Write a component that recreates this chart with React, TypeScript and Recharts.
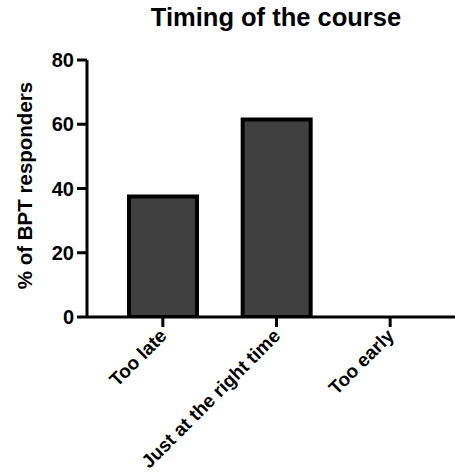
import React from 'react';
import { BarChart, Bar, XAxis, YAxis } from 'recharts';

const categories = ['Too late', 'Just at the right time', 'Too early'];
const responders = [37.5, 61.5, 0];
const yTicks = [0, 20, 40, 60, 80];

const data = categories.map((c, i) => ({ name: c, value: responders[i] }));

const FONT = 'Arial, "Liberation Sans", sans-serif';

const XTick = (props: any) => {
  const { x, y, payload } = props;
  const ax = x + 5;
  const ay = y + 8;
  return (
    <text
      x={ax}
      y={ay}
      transform={`rotate(-45, ${ax}, ${ay})`}
      textAnchor="end"
      fontFamily={FONT}
      fontWeight="bold"
      fontSize={19}
      fill="#000"
    >
      {payload.value}
    </text>
  );
};

const YLabel = (props: any) => {
  const { viewBox } = props;
  const cy = viewBox.y + viewBox.height / 2 - 3;
  const cx = 32;
  return (
    <text
      x={cx}
      y={cy}
      transform={`rotate(-90, ${cx}, ${cy})`}
      textAnchor="middle"
      fontFamily={FONT}
      fontWeight="bold"
      fontSize={20.5}
      fill="#000"
    >
      % of BPT responders
    </text>
  );
};

export default function App() {
  return (
    <div style={{ position: 'absolute', left: 0, top: 0, width: 455, height: 476, background: '#fff' }}>
      <div
        style={{
          position: 'absolute',
          left: 0,
          top: 2,
          width: 455,
          paddingLeft: 97,
          boxSizing: 'border-box',
          textAlign: 'center',
          fontFamily: FONT,
          fontWeight: 'bold',
          fontSize: 25.5,
          lineHeight: '30px',
          color: '#000',
        }}
      >
        Timing of the course
      </div>
      <BarChart
        width={455}
        height={476}
        data={data}
        margin={{ top: 60, right: 0, bottom: 0, left: 0 }}
        barCategoryGap={0}
      >
        <XAxis
          dataKey="name"
          height={159}
          axisLine={{ stroke: '#000', strokeWidth: 3 }}
          tickLine={{ stroke: '#000', strokeWidth: 3 }}
          tickSize={10}
          tickMargin={2}
          interval={0}
          padding={{ left: 19, right: 8 }}
          tick={<XTick />}
        />
        <YAxis
          width={87}
          domain={[0, 80]}
          ticks={yTicks}
          allowDataOverflow
          axisLine={{ stroke: '#000', strokeWidth: 3 }}
          tickLine={{ stroke: '#000', strokeWidth: 3 }}
          tickSize={10}
          tickMargin={3}
          tick={{ fill: '#000', fontFamily: FONT, fontWeight: 'bold', fontSize: 20 }}
          label={<YLabel />}
        />
        <Bar
          dataKey="value"
          fill="#404040"
          stroke="#000"
          strokeWidth={4}
          barSize={68}
          isAnimationActive={false}
        />
      </BarChart>
    </div>
  );
}
